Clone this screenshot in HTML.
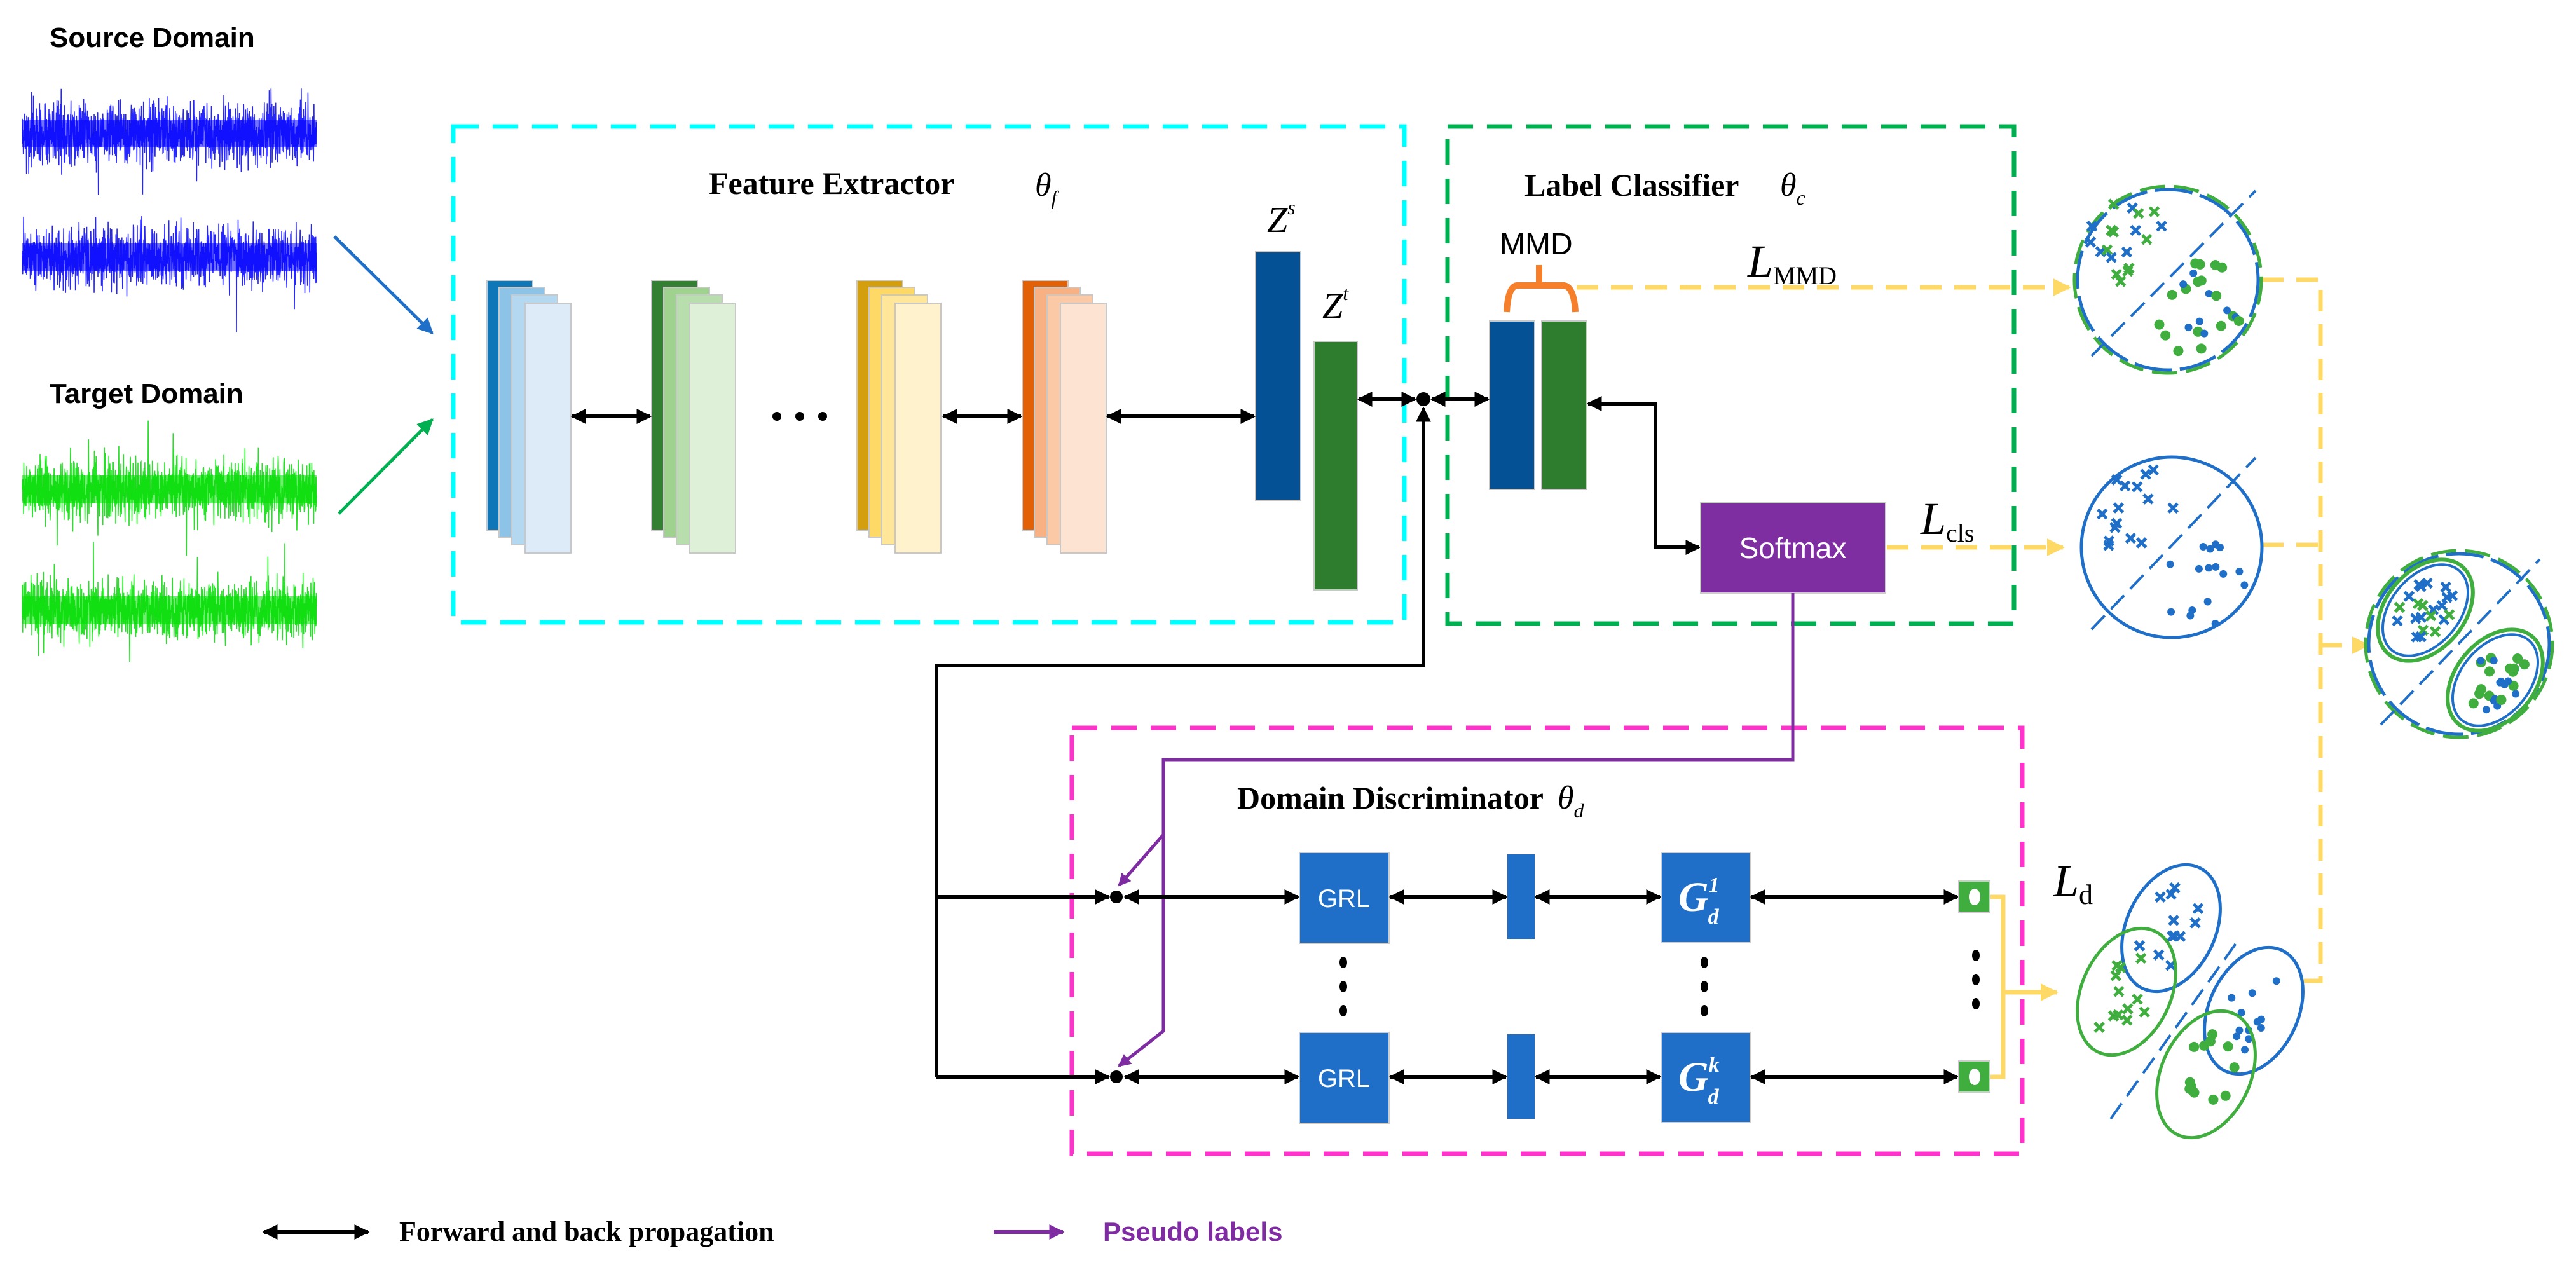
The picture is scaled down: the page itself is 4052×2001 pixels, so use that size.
<!DOCTYPE html>
<html><head><meta charset="utf-8">
<style>
html,body{margin:0;padding:0;background:#fff;}
svg{display:block;}
.ser{font-family:"Liberation Serif",serif;}
.san{font-family:"Liberation Sans",sans-serif;}
</style></head>
<body>
<svg id="s" width="4052" height="2001" viewBox="0 0 4052 2001" xmlns="http://www.w3.org/2000/svg">
<defs>
<marker id="ak" viewBox="0 0 10 10" refX="9" refY="5" markerWidth="4" markerHeight="4" orient="auto-start-reverse"><path d="M0,0L10,5L0,10z" fill="#000"/></marker>
<marker id="ab" viewBox="0 0 10 10" refX="9" refY="5" markerWidth="5" markerHeight="5" orient="auto"><path d="M0,0L10,5L0,10z" fill="#1f6fc8"/></marker>
<marker id="ag" viewBox="0 0 10 10" refX="9" refY="5" markerWidth="5" markerHeight="5" orient="auto"><path d="M0,0L10,5L0,10z" fill="#00b050"/></marker>
<marker id="ap" viewBox="0 0 10 10" refX="9" refY="5" markerWidth="4" markerHeight="4" orient="auto"><path d="M0,0L10,5L0,10z" fill="#7f2ca3"/></marker>
<marker id="ay" viewBox="0 0 10 10" refX="9" refY="5" markerWidth="4" markerHeight="4" orient="auto"><path d="M0,0L10,5L0,10z" fill="#ffd966"/></marker>
</defs>

<text x="78" y="74" class="san" font-weight="bold" font-size="44">Source Domain</text>
<text x="78" y="634" class="san" font-weight="bold" font-size="44">Target Domain</text>
<g id="sig"></g>

<line x1="526" y1="372" x2="680" y2="524" stroke="#1f6fc8" stroke-width="5" marker-end="url(#ab)"/>
<line x1="533" y1="808" x2="680" y2="660" stroke="#00b050" stroke-width="5" marker-end="url(#ag)"/>

<rect x="713" y="199" width="1496" height="780" fill="none" stroke="#00ffff" stroke-width="7" stroke-dasharray="40,22"/>
<rect x="2277" y="199" width="891" height="782" fill="none" stroke="#00b050" stroke-width="7" stroke-dasharray="40,22"/>
<rect x="1686" y="1145" width="1495" height="670" fill="none" stroke="#ff33cc" stroke-width="7" stroke-dasharray="40,22"/>

<text x="1115" y="305" class="ser" font-weight="bold" font-size="50">Feature Extractor</text>
<text x="1628" y="308" class="ser" font-style="italic" font-size="52">θ<tspan font-size="32" dy="14">f</tspan></text>
<text x="2398" y="308" class="ser" font-weight="bold" font-size="50">Label Classifier</text>
<text x="2800" y="308" class="ser" font-style="italic" font-size="52">θ<tspan font-size="32" dy="14">c</tspan></text>
<text x="1946" y="1272" class="ser" font-weight="bold" font-size="50">Domain Discriminator</text>
<text x="2450" y="1272" class="ser" font-style="italic" font-size="52">θ<tspan font-size="32" dy="14">d</tspan></text>

<g stroke="#c8c8c8" stroke-width="2">
<rect x="766" y="441" width="72" height="393" fill="#0f77b8"/><rect x="785" y="452" width="72" height="393" fill="#8dc3e6"/><rect x="805" y="464" width="72" height="393" fill="#b3d8ef"/><rect x="826" y="477" width="72" height="393" fill="#dcebf7"/>
<rect x="1025" y="441" width="72" height="393" fill="#338033"/><rect x="1044" y="452" width="72" height="393" fill="#9fd18f"/><rect x="1064" y="464" width="72" height="393" fill="#b8dead"/><rect x="1085" y="477" width="72" height="393" fill="#dff0d8"/>
<rect x="1348" y="441" width="72" height="393" fill="#d39f0f"/><rect x="1367" y="452" width="72" height="393" fill="#ffd966"/><rect x="1387" y="464" width="72" height="393" fill="#ffe699"/><rect x="1408" y="477" width="72" height="393" fill="#fff2cc"/>
<rect x="1608" y="441" width="72" height="393" fill="#e26006"/><rect x="1627" y="452" width="72" height="393" fill="#f8b183"/><rect x="1647" y="464" width="72" height="393" fill="#fbc9a6"/><rect x="1668" y="477" width="72" height="393" fill="#fde4d2"/>
<rect x="1975" y="396" width="71" height="391" fill="#045196"/>
<rect x="2067" y="537" width="68" height="391" fill="#2e7d2e"/>
<rect x="2343" y="505" width="71" height="265" fill="#045196"/>
<rect x="2425" y="505" width="71" height="265" fill="#2e7d2e"/>
</g>
<circle cx="1222" cy="655" r="7"/><circle cx="1258" cy="655" r="7"/><circle cx="1294" cy="655" r="7"/>
<g stroke="#000" stroke-width="6" marker-start="url(#ak)" marker-end="url(#ak)">
<line x1="900" y1="655" x2="1023" y2="655"/>
<line x1="1484" y1="655" x2="1606" y2="655"/>
<line x1="1742" y1="655" x2="1973" y2="655"/>
</g>
<text x="1993" y="365" class="ser" font-style="italic" font-size="58">Z<tspan font-size="32" dy="-28">s</tspan></text>
<text x="2080" y="500" class="ser" font-style="italic" font-size="58">Z<tspan font-size="32" dy="-28">t</tspan></text>

<circle cx="2239" cy="628" r="11"/>
<line x1="2137" y1="628" x2="2226" y2="628" stroke="#000" stroke-width="6" marker-start="url(#ak)" marker-end="url(#ak)"/>
<line x1="2252" y1="628" x2="2341" y2="628" stroke="#000" stroke-width="6" marker-start="url(#ak)" marker-end="url(#ak)"/>
<polyline points="1473,1694 1473,1047 2239,1047 2239,642" fill="none" stroke="#000" stroke-width="6" marker-end="url(#ak)"/>
<polyline points="2498,635 2604,635 2604,861 2673,861" fill="none" stroke="#000" stroke-width="6" marker-start="url(#ak)" marker-end="url(#ak)"/>

<text x="2359" y="400" class="san" font-size="48">MMD</text>
<path d="M2421,417V449M2370,491Q2372,451 2386,449H2460Q2476,451 2478,491" fill="none" stroke="#f57f2a" stroke-width="10"/>
<text x="2749" y="435" class="ser" font-style="italic" font-size="72">L<tspan font-style="normal" font-size="40" dy="12">MMD</tspan></text>

<rect x="2675" y="791" width="291" height="142" fill="#7e2ea0" stroke="#ccc" stroke-width="2"/>
<text x="2820" y="878" text-anchor="middle" class="san" font-size="46" fill="#fff">Softmax</text>
<text x="3021" y="840" class="ser" font-style="italic" font-size="72">L<tspan font-style="normal" font-size="40" dy="12">cls</tspan></text>

<g stroke="#ffd966" stroke-width="7" fill="none" stroke-dasharray="34,20">
<line x1="2480" y1="452" x2="3255" y2="452" marker-end="url(#ay)"/>
<line x1="2968" y1="861" x2="3245" y2="861" marker-end="url(#ay)"/>
<polyline points="3558,440 3650,440 3650,1543 3608,1543"/>
<line x1="3558" y1="857" x2="3650" y2="857"/>
<line x1="3650" y1="1015" x2="3725" y2="1015" marker-end="url(#ay)"/>
</g>
<g stroke="#ffd966" stroke-width="7" fill="none">
<polyline points="3130,1411 3151,1411 3151,1694 3130,1694"/>
<line x1="3151" y1="1561" x2="3235" y2="1561" marker-end="url(#ay)"/>
</g>

<polyline points="2820,933 2820,1195 1830,1195 1830,1313 1760,1393" fill="none" stroke="#7f2ca3" stroke-width="5" marker-end="url(#ap)"/>
<polyline points="1830,1313 1830,1622 1760,1677" fill="none" stroke="#7f2ca3" stroke-width="5" marker-end="url(#ap)"/>

<g id="rows"></g>
<text x="3230" y="1410" class="ser" font-style="italic" font-size="72">L<tspan font-style="normal" font-size="44" dy="12">d</tspan></text>

<g id="scat"></g>

<line x1="415" y1="1938" x2="579" y2="1938" stroke="#000" stroke-width="6" marker-start="url(#ak)" marker-end="url(#ak)"/>
<text x="628" y="1952" class="ser" font-weight="bold" font-size="44">Forward and back propagation</text>
<line x1="1563" y1="1938" x2="1672" y2="1938" stroke="#7f2ca3" stroke-width="6" marker-end="url(#ap)"/>
<text x="1735" y="1952" class="san" font-weight="bold" font-size="42" fill="#7f2ca3">Pseudo labels</text>
</svg>
<script>
var NS="http://www.w3.org/2000/svg";
function el(p,t,a){var e=document.createElementNS(NS,t);for(var k in a)e.setAttribute(k,a[k]);p.appendChild(e);return e;}
var seed=7;function rnd(){seed=(seed*16807)%2147483647;return seed/2147483647;}
function gauss(){return (rnd()+rnd()+rnd()+rnd()-2)/2;}
var sig=document.getElementById('sig');
[[210,'#0000ff'],[405,'#0000ff'],[770,'#00dd00'],[960,'#00dd00']].forEach(function(c){
 var d='M35,'+c[0];for(var x=35;x<=498;x+=0.35){var g=gauss();if(rnd()<0.04)g*=1.8;d+='L'+x.toFixed(2)+','+(c[0]+g*80).toFixed(1);}
 el(sig,'path',{d:d,fill:'none',stroke:c[1],'stroke-width':1.6,'stroke-opacity':0.85});
 el(sig,'rect',{x:35,y:c[0]-22,width:463,height:44,fill:c[1],'fill-opacity':0.55});
});
var rows=document.getElementById('rows');
[1411,1694].forEach(function(y,i){
 var t=y-70;
 el(rows,'circle',{cx:1756,cy:y,r:10});
 el(rows,'line',{x1:1473,y1:y,x2:1744,y2:y,stroke:'#000','stroke-width':6,'marker-end':'url(#ak)'});
 el(rows,'line',{x1:1770,y1:y,x2:2042,y2:y,stroke:'#000','stroke-width':6,'marker-start':'url(#ak)','marker-end':'url(#ak)'});
 el(rows,'rect',{x:2044,y:t,width:141,height:143,fill:'#1f6fc8',stroke:'#ccc','stroke-width':2});
 var g=el(rows,'text',{x:2114,y:y+16,'text-anchor':'middle','font-family':'Liberation Sans,sans-serif','font-size':40,fill:'#fff'});g.textContent='GRL';
 el(rows,'line',{x1:2187,y1:y,x2:2369,y2:y,stroke:'#000','stroke-width':6,'marker-start':'url(#ak)','marker-end':'url(#ak)'});
 el(rows,'rect',{x:2371,y:y-67,width:43,height:133,fill:'#1f6fc8'});
 el(rows,'line',{x1:2416,y1:y,x2:2611,y2:y,stroke:'#000','stroke-width':6,'marker-start':'url(#ak)','marker-end':'url(#ak)'});
 el(rows,'rect',{x:2613,y:t,width:140,height:142,fill:'#1f6fc8',stroke:'#ccc','stroke-width':2});
 var G=el(rows,'text',{x:2640,y:y+22,'font-family':'Liberation Serif,serif','font-style':'italic','font-weight':'bold','font-size':66,fill:'#fff'});
 G.innerHTML='G<tspan font-size="34" dy="-30">'+(i?'k':'1')+'</tspan><tspan font-size="34" dx="-18" dy="50">d</tspan>';
 el(rows,'line',{x1:2755,y1:y,x2:3079,y2:y,stroke:'#000','stroke-width':6,'marker-start':'url(#ak)','marker-end':'url(#ak)'});
 el(rows,'rect',{x:3081,y:y-25,width:49,height:49,fill:'#3fae3f',stroke:'#ccc','stroke-width':2});
 el(rows,'ellipse',{cx:3106,cy:y,rx:9,ry:13,fill:'#fff'});
});
[[2113,1514],[2113,1552],[2113,1590],[2681,1514],[2681,1552],[2681,1590],[3108,1503],[3108,1541],[3108,1579]].forEach(function(p){el(rows,'ellipse',{cx:p[0],cy:p[1],rx:6,ry:9});});

var sc=document.getElementById('scat');
var B='#1f6fc8',Gr='#3fae3f';
function cross(x,y,c){el(sc,'path',{d:'M'+(x-7)+','+(y-7)+'l14,14m0,-14l-14,14',stroke:c,'stroke-width':5});}
function dot(x,y,c){el(sc,'circle',{cx:x,cy:y,r:c==Gr?8:6,fill:c});}
function fill(cx,cy,rx,ry,rot,n,fn){var a=rot*Math.PI/180;for(var i=0;i<n;i++){var u=rnd()*2-1,v=rnd()*2-1;if(u*u+v*v>0.75){i--;continue;}var px=u*rx,py=v*ry;fn(cx+px*Math.cos(a)-py*Math.sin(a),cy+px*Math.sin(a)+py*Math.cos(a));}}
el(sc,'circle',{cx:3410,cy:440,r:142,fill:'none',stroke:B,'stroke-width':5,'stroke-dasharray':'60,12'});
el(sc,'circle',{cx:3410,cy:440,r:147,fill:'none',stroke:Gr,'stroke-width':5,'stroke-dasharray':'40,14'});
el(sc,'line',{x1:3290,y1:560,x2:3548,y2:300,stroke:B,'stroke-width':4,'stroke-dasharray':'30,14'});
fill(3360,390,90,90,0,22,function(x,y){if(x+y<3800)cross(x,y,rnd()<.5?B:Gr);});
fill(3460,490,90,90,0,26,function(x,y){if(x+y>3860)dot(x,y,rnd()<.5?B:Gr);});
el(sc,'circle',{cx:3416,cy:861,r:142,fill:'none',stroke:B,'stroke-width':5});
el(sc,'line',{x1:3290,y1:990,x2:3548,y2:720,stroke:B,'stroke-width':4,'stroke-dasharray':'30,14'});
fill(3365,810,90,90,0,18,function(x,y){if(x+y<4230)cross(x,y,B);});
fill(3465,910,90,90,0,18,function(x,y){if(x+y>4300)dot(x,y,B);});
el(sc,'circle',{cx:3868,cy:1013,r:142,fill:'none',stroke:B,'stroke-width':5,'stroke-dasharray':'60,12'});
el(sc,'circle',{cx:3868,cy:1013,r:147,fill:'none',stroke:Gr,'stroke-width':5,'stroke-dasharray':'40,14'});
el(sc,'line',{x1:3745,y1:1140,x2:3995,y2:880,stroke:B,'stroke-width':4,'stroke-dasharray':'30,14'});
[[3815,960],[3925,1070]].forEach(function(c,k){
 el(sc,'ellipse',{cx:c[0],cy:c[1],rx:62,ry:90,transform:'rotate(40 '+c[0]+' '+c[1]+')',fill:'none',stroke:Gr,'stroke-width':6});
 el(sc,'ellipse',{cx:c[0],cy:c[1],rx:54,ry:82,transform:'rotate(40 '+c[0]+' '+c[1]+')',fill:'none',stroke:B,'stroke-width':4});
 fill(c[0],c[1],45,65,40,k?26:22,function(x,y){var col=rnd()<.5?B:Gr;if(k)dot(x,y,col);else cross(x,y,col);});
});
var E=[[3415,1460,70,105,25,B,0],[3345,1560,70,105,25,Gr,0],[3545,1590,70,105,25,B,1],[3470,1690,70,105,25,Gr,1]];
E.forEach(function(e){
 el(sc,'ellipse',{cx:e[0],cy:e[1],rx:e[2],ry:e[3],transform:'rotate('+e[4]+' '+e[0]+' '+e[1]+')',fill:'none',stroke:e[5],'stroke-width':5});
 fill(e[0],e[1],e[2]*0.8,e[3]*0.8,e[4],12,function(x,y){if(e[6])dot(x,y,e[5]);else cross(x,y,e[5]);});
});
el(sc,'line',{x1:3320,y1:1760,x2:3520,y2:1480,stroke:B,'stroke-width':4,'stroke-dasharray':'30,14'});
</script>
</body></html>
